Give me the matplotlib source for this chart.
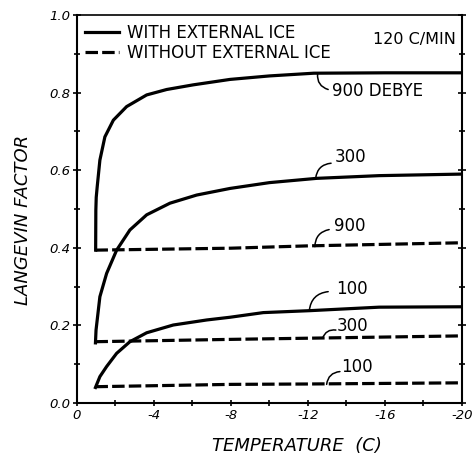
import matplotlib
matplotlib.use("Agg")
import matplotlib.pyplot as plt
from matplotlib.ticker import MultipleLocator, FormatStrFormatter

plt.rcParams['axes.unicode_minus'] = False
plt.rcParams['lines.scale_dashes'] = False
plt.rcParams['font.family'] = ['DejaVu Sans']

# Langevin factor vs temperature, cooling at 120 C/min
t_900_ice = [-0.97, -0.98, -1.0, -1.05, -1.19, -1.45, -1.89, -2.58, -3.62, -4.66,
             -6.04, -7.95, -10.0, -12.3, -16.0, -20.0]
l_900_ice = [0.394, 0.497, 0.53, 0.557, 0.626, 0.686, 0.729, 0.764, 0.794, 0.808,
             0.82, 0.834, 0.843, 0.85, 0.851, 0.851]

t_300_ice = [-0.96, -0.99, -1.19, -1.54, -2.06, -2.75, -3.62, -4.83, -6.22, -7.95,
             -10.0, -12.45, -15.7, -20.0]
l_300_ice = [0.155, 0.188, 0.274, 0.334, 0.394, 0.446, 0.485, 0.515, 0.536, 0.553,
             0.568, 0.579, 0.586, 0.59]

t_100_ice = [-0.96, -1.19, -1.54, -2.06, -2.75, -3.62, -5.0, -6.74, -7.95, -9.68,
             -12.1, -15.7, -20.0]
l_100_ice = [0.040, 0.068, 0.094, 0.128, 0.158, 0.181, 0.201, 0.214, 0.221, 0.233,
             0.238, 0.247, 0.248]

t_noice = [-0.96, -8.0, -12.0, -20.0]
l_900_noice = [0.394, 0.399, 0.405, 0.413]
l_300_noice = [0.158, 0.164, 0.167, 0.173]
l_100_noice = [0.042, 0.048, 0.049, 0.052]

fig = plt.figure(figsize=(4.74, 4.59), dpi=100)
ax = fig.add_axes([0.1624, 0.122, 0.8122, 0.8453])

lw = 2.3
dash = (9, 3)
ax.plot(t_900_ice, l_900_ice, color='black', lw=lw, label='WITH EXTERNAL ICE',
        solid_joinstyle='miter')
ax.plot(t_300_ice, l_300_ice, color='black', lw=lw)
ax.plot(t_100_ice, l_100_ice, color='black', lw=lw)
ax.plot(t_noice, l_900_noice, color='black', lw=lw, dashes=dash,
        label='WITHOUT EXTERNAL ICE')
ax.plot(t_noice, l_300_noice, color='black', lw=lw, dashes=dash)
ax.plot(t_noice, l_100_noice, color='black', lw=lw, dashes=dash)

ax.set_xlim(0, -20)
ax.set_ylim(0, 1.0)

ax.xaxis.set_major_locator(MultipleLocator(4))
ax.xaxis.set_minor_locator(MultipleLocator(2))
ax.yaxis.set_major_locator(MultipleLocator(0.2))
ax.yaxis.set_minor_locator(MultipleLocator(0.1))
ax.xaxis.set_major_formatter(FormatStrFormatter('%d'))
ax.yaxis.set_major_formatter(FormatStrFormatter('%.1f'))

for s in ax.spines.values():
    s.set_linewidth(1.5)
ax.spines['top'].set_linewidth(1.2)
ax.tick_params(which='both', direction='inout', width=1.2, right=True,
               labelsize=9.5, pad=2)
ax.tick_params(axis='y', which='major', length=6)
ax.tick_params(axis='y', which='minor', length=5)
ax.tick_params(axis='x', which='both', length=4)
for lab in ax.get_xticklabels() + ax.get_yticklabels():
    lab.set_style('italic')

ax.set_xlabel('TEMPERATURE  (C)', fontsize=13, style='italic')
ax.xaxis.set_label_coords(0.571, -0.088)
ax.set_ylabel('LANGEVIN FACTOR', fontsize=13, style='italic')
ax.yaxis.set_label_coords(-0.118, 0.472)

ax.legend(loc='upper left', bbox_to_anchor=(0.022, 0.977), frameon=False,
          fontsize=12, handlelength=2.0, handletextpad=0.5, labelspacing=0.1,
          borderpad=0, borderaxespad=0)

ax.text(-15.4, 0.937, '120 C/MIN', fontsize=11.5, ha='left', va='center')

# curve labels with small curved leaders
labels = [
    ('900 DEBYE', (-12.5, 0.848), (-13.05, 0.808), (-13.25, 0.805), -0.4),
    ('300', (-12.4, 0.579), (-13.2, 0.618), (-13.4, 0.633), 0.4),
    ('900', (-12.36, 0.403), (-13.1, 0.447), (-13.35, 0.456), 0.4),
    ('100', (-12.07, 0.238), (-13.05, 0.287), (-13.45, 0.293), 0.4),
    ('300', (-12.76, 0.167), (-13.45, 0.188), (-13.5, 0.198), 0.4),
    ('100', (-12.97, 0.048), (-13.66, 0.081), (-13.7, 0.094), 0.4),
]
for txt, p_curve, p_end, p_text, rad in labels:
    ax.annotate('', xy=p_curve, xytext=p_end,
                arrowprops=dict(arrowstyle='-', lw=1.1, color='black',
                                shrinkA=0, shrinkB=0,
                                connectionstyle='arc3,rad=%.2f' % rad))
    ax.text(p_text[0], p_text[1], txt, fontsize=12, ha='left', va='center')

fig.savefig('out.png', dpi=100)
